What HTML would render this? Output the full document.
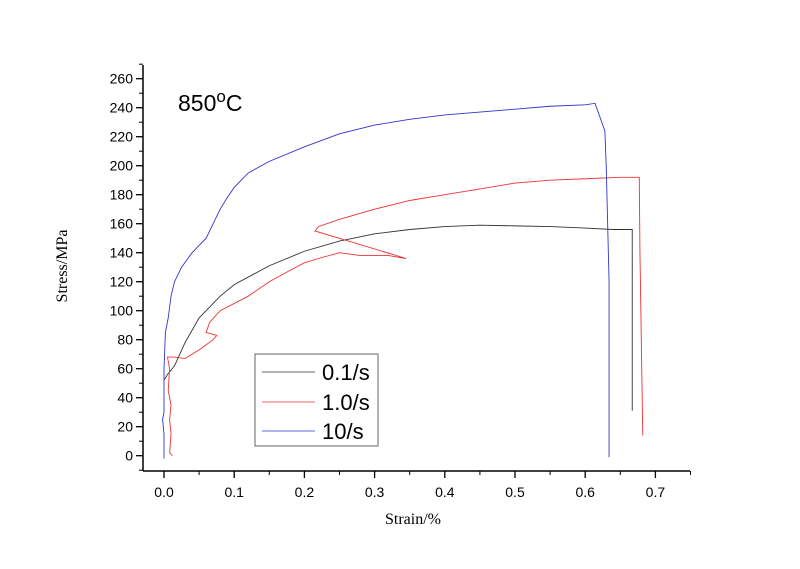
<!DOCTYPE html>
<html><head><meta charset="utf-8"><style>
body{margin:0;background:#fff}
svg text{font-family:"Liberation Sans",Arial,sans-serif}
</style></head><body>
<svg id="chart" width="800" height="564" xmlns="http://www.w3.org/2000/svg">
<g id="axes"></g>
<g id="series"></g>
<text x="178" y="111" font-size="23">850<tspan dy="-9" font-size="17">o</tspan><tspan dy="9">C</tspan></text>
<text x="0" y="0" transform="translate(67,266) rotate(-90)" text-anchor="middle" font-size="16" style="font-family:'Liberation Serif',serif">Stress/MPa</text>
<text x="413" y="524" text-anchor="middle" font-size="16" style="font-family:'Liberation Serif',serif">Strain/%</text>
<g>
<rect x="255" y="354" width="123" height="92" fill="#fff" stroke="#666" stroke-width="1"/>
<line x1="262" y1="372" x2="315" y2="372" stroke="#333" stroke-width="0.8"/>
<text x="322" y="380" font-size="22">0.1/s</text>
<line x1="262" y1="402" x2="315" y2="402" stroke="#e33" stroke-width="0.8"/>
<text x="322" y="410" font-size="22">1.0/s</text>
<line x1="262" y1="431" x2="315" y2="431" stroke="#33c" stroke-width="0.8"/>
<text x="322" y="439" font-size="22">10/s</text>
</g>
</svg>
<script>
const xTicks=[0,0.1,0.2,0.3,0.4,0.5,0.6,0.7];
const xTickLabels=["0.0","0.1","0.2","0.3","0.4","0.5","0.6","0.7"];
const yTicks=[0,20,40,60,80,100,120,140,160,180,200,220,240,260];
const s01Strain=[0.0,0.005,0.015,0.03,0.05,0.08,0.1,0.15,0.2,0.25,0.3,0.35,0.4,0.45,0.5,0.55,0.6,0.64,0.667,0.667];
const s01Stress=[52,56,62,78,95,110,118,131,141,148,153,156,158,159,158.5,158,157,156,156,31];
const s1Strain=[0.012,0.008,0.01,0.008,0.01,0.006,0.008,0.005,0.015,0.03,0.05,0.07,0.075,0.06,0.065,0.08,0.1,0.12,0.15,0.18,0.2,0.22,0.25,0.28,0.32,0.345,0.215,0.22,0.25,0.3,0.35,0.4,0.45,0.5,0.55,0.6,0.65,0.677,0.678,0.682];
const s1Stress=[0,2,15,25,35,45,60,68,68,67,73,80,83,85,92,100,105,110,120,128,133,136,140,138,138,136,155,158,163,170,176,180,184,188,190,191,192,192,140,14];
const s10Strain=[0.0,0.0,-0.002,0.0,0.0,0.002,0.006,0.01,0.015,0.025,0.04,0.05,0.06,0.07,0.08,0.09,0.1,0.12,0.15,0.2,0.25,0.3,0.35,0.4,0.45,0.5,0.55,0.6,0.614,0.628,0.63,0.634,0.634];
const s10Stress=[-2,15,25,30,60,85,95,110,120,130,140,145,150,160,170,178,185,195,203,213,222,228,232,235,237,239,241,242,243,224,199,120,-1];
const X=v=>164+v*702;
const Y=v=>455.7-v*1.45;
const NS="http://www.w3.org/2000/svg";
const ax=document.getElementById('axes');
function mk(t,a,p){const e=document.createElementNS(NS,t);for(const k in a)e.setAttribute(k,a[k]);p.appendChild(e);return e;}
let yl=mk('line',{x1:143,y1:65,x2:143,y2:471,stroke:'#000','stroke-width':1.5},ax);


let xl=mk('line',{x1:143,y1:471,x2:690,y2:471,stroke:'#000','stroke-width':1.5},ax);


xTicks.forEach((v,i)=>{
 mk('line',{x1:X(v),y1:471,x2:X(v),y2:478,stroke:'#000','stroke-width':1.3},ax);
 mk('line',{x1:X(v+0.05),y1:471,x2:X(v+0.05),y2:475,stroke:'#000','stroke-width':1},ax);
 const t=mk('text',{x:X(v),y:497,'text-anchor':'middle','font-size':14},ax);t.textContent=xTickLabels[i];
 
 
});
yTicks.forEach(v=>{
 mk('line',{x1:136,y1:Y(v),x2:143,y2:Y(v),stroke:'#000','stroke-width':1.3},ax);
 mk('line',{x1:139,y1:Y(v+10),x2:143,y2:Y(v+10),stroke:'#000','stroke-width':1},ax);
 const t=mk('text',{x:133,y:Y(v)+5,'text-anchor':'end','font-size':14},ax);t.textContent=v;
 
 
});
mk('line',{x1:139,y1:Y(-10),x2:143,y2:Y(-10),stroke:'#000'},ax);
const sg=document.getElementById('series');
function line(xs,ys,c,name){
 const p=mk('polyline',{points:xs.map((x,i)=>X(x)+','+Y(ys[i])).join(' '),fill:'none',stroke:c,'stroke-width':0.9},sg);
 
 
}
line(s01Strain,s01Stress,'#333','series-0.1-per-s');
line(s1Strain,s1Stress,'#e33','series-1.0-per-s');
line(s10Strain,s10Stress,'#33c','series-10-per-s');
</script>
</body></html>
